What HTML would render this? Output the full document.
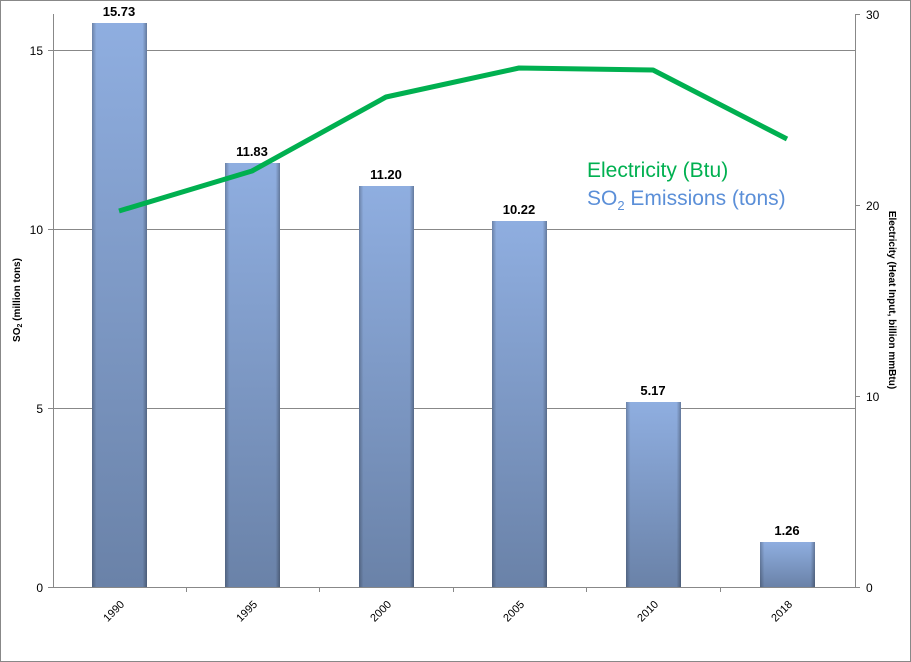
<!DOCTYPE html>
<html><head><meta charset="utf-8"><style>
html,body{margin:0;padding:0;background:#fff;width:911px;height:662px;overflow:hidden}
text{font-family:"Liberation Sans",sans-serif}
</style></head><body>
<svg width="911" height="662" xmlns="http://www.w3.org/2000/svg">
<defs>
<linearGradient id="bg" x1="0" y1="0" x2="0" y2="1">
<stop offset="0" stop-color="#8faee0"/><stop offset="1" stop-color="#6a82a8"/>
</linearGradient>
<linearGradient id="bh" x1="0" y1="0" x2="1" y2="0">
<stop offset="0" stop-color="#000" stop-opacity="0.25"/><stop offset="0.08" stop-color="#000" stop-opacity="0"/>
<stop offset="0.92" stop-color="#000" stop-opacity="0"/><stop offset="1" stop-color="#000" stop-opacity="0.3"/>
</linearGradient>
</defs>
<rect x="0.5" y="0.5" width="910" height="661" fill="#fff" stroke="#888"/>
<g stroke="#888" stroke-width="1">
<line x1="53" y1="50.5" x2="855" y2="50.5"/>
<line x1="53" y1="229.5" x2="855" y2="229.5"/>
<line x1="53" y1="408.5" x2="855" y2="408.5"/>
<line x1="53" y1="587.5" x2="855" y2="587.5"/>
<line x1="53.5" y1="14" x2="53.5" y2="587"/>
<line x1="855.5" y1="14" x2="855.5" y2="587"/>
<line x1="48" y1="50.5" x2="53" y2="50.5"/><line x1="48" y1="229.5" x2="53" y2="229.5"/><line x1="48" y1="408.5" x2="53" y2="408.5"/><line x1="48" y1="587.5" x2="53" y2="587.5"/>
<line x1="855" y1="14.5" x2="860" y2="14.5"/><line x1="855" y1="205.5" x2="860" y2="205.5"/><line x1="855" y1="396.5" x2="860" y2="396.5"/><line x1="855" y1="587.5" x2="860" y2="587.5"/>
<line x1="186.5" y1="587" x2="186.5" y2="592"/><line x1="319.5" y1="587" x2="319.5" y2="592"/><line x1="453.5" y1="587" x2="453.5" y2="592"/><line x1="586.5" y1="587" x2="586.5" y2="592"/><line x1="720.5" y1="587" x2="720.5" y2="592"/>
</g>
<g font-size="12" fill="#000" text-anchor="end">
<text x="43" y="55">15</text><text x="43" y="234">10</text><text x="43" y="413">5</text><text x="43" y="592">0</text>
</g>
<g font-size="12" fill="#000">
<text x="866" y="19">30</text><text x="866" y="210">20</text><text x="866" y="401">10</text><text x="866" y="592">0</text>
</g>
<g>
<rect x="92" y="23" width="55" height="564" fill="url(#bg)"/><rect x="92" y="23" width="55" height="564" fill="url(#bh)"/>
<rect x="225" y="163" width="55" height="424" fill="url(#bg)"/><rect x="225" y="163" width="55" height="424" fill="url(#bh)"/>
<rect x="359" y="186" width="55" height="401" fill="url(#bg)"/><rect x="359" y="186" width="55" height="401" fill="url(#bh)"/>
<rect x="492" y="221" width="55" height="366" fill="url(#bg)"/><rect x="492" y="221" width="55" height="366" fill="url(#bh)"/>
<rect x="626" y="402" width="55" height="185" fill="url(#bg)"/><rect x="626" y="402" width="55" height="185" fill="url(#bh)"/>
<rect x="760" y="542" width="55" height="45" fill="url(#bg)"/><rect x="760" y="542" width="55" height="45" fill="url(#bh)"/>
</g>
<g font-size="13" font-weight="bold" text-anchor="middle">
<text x="119" y="16">15.73</text><text x="252" y="156">11.83</text><text x="386" y="179">11.20</text>
<text x="519" y="214">10.22</text><text x="653" y="395">5.17</text><text x="787" y="535">1.26</text>
</g>
<polyline points="119,211 252,171 386,97 519,68 653,70 787,139" fill="none" stroke="#00b050" stroke-width="5" stroke-linejoin="round"/>
<text x="587" y="177" font-size="21" fill="#00b050">Electricity (Btu)</text>
<text x="587" y="205" font-size="21" fill="#5b8fd8">SO<tspan font-size="13" dy="5">2</tspan><tspan dy="-5"> Emissions (tons)</tspan></text>
<g font-size="11" text-anchor="end">
<text transform="translate(125,605) rotate(-45)">1990</text>
<text transform="translate(258,605) rotate(-45)">1995</text>
<text transform="translate(392,605) rotate(-45)">2000</text>
<text transform="translate(525,605) rotate(-45)">2005</text>
<text transform="translate(659,605) rotate(-45)">2010</text>
<text transform="translate(793,605) rotate(-45)">2018</text>
</g>
<text transform="translate(20,300) rotate(-90)" font-size="10" font-weight="bold" text-anchor="middle">SO<tspan font-size="7" dy="2">2</tspan><tspan dy="-2"> (million tons)</tspan></text>
<text transform="translate(889,300) rotate(90)" font-size="10" font-weight="bold" text-anchor="middle">Electricity (Heat Input, billion mmBtu)</text>
</svg>
</body></html>
